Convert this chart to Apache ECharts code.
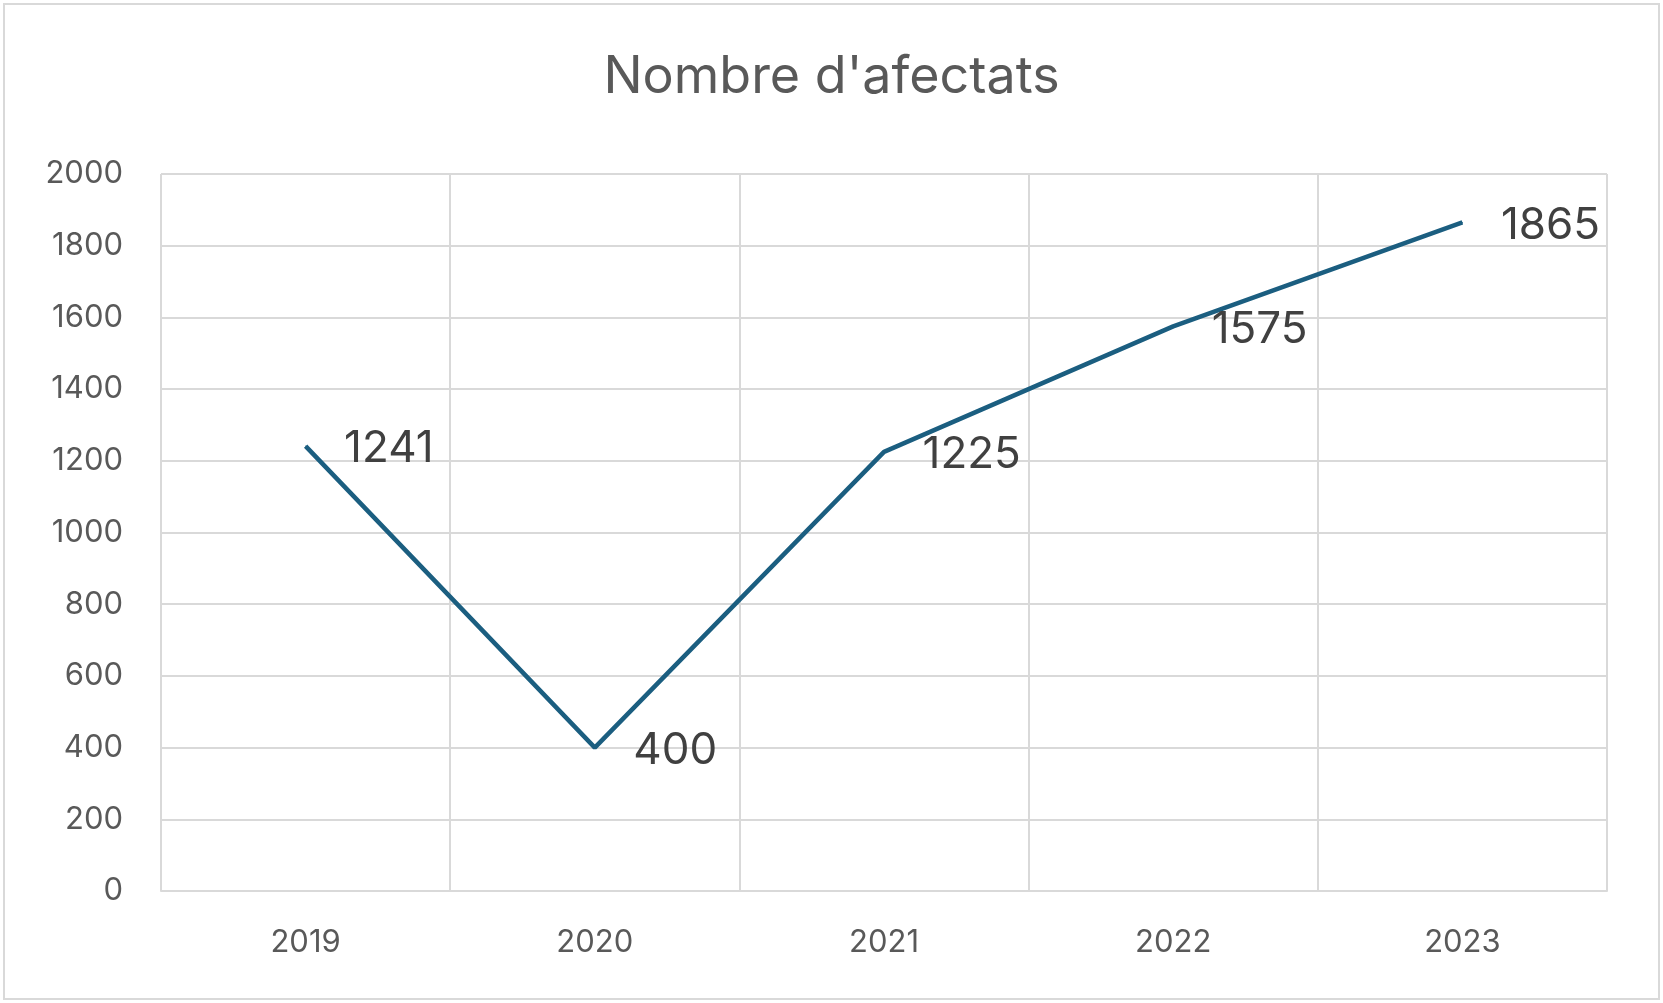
<!DOCTYPE html>
<html><head><meta charset="utf-8">
<script src="https://cdn.jsdelivr.net/npm/echarts@6/dist/echarts.min.js"></script>
<style>html,body{margin:0;padding:0;background:#fff}#c{width:1663px;height:1003px}</style>
</head><body><div id="c"></div>
<script>
const categories = ['2019','2020','2021','2022','2023'];
const values = [1241, 400, 1225, 1575, 1865];
const yTicks = {min:0, max:2000, interval:200};
const chart = echarts.init(document.getElementById('c'));
chart.setOption({
  backgroundColor:'#fff',
  title:{text:"Nombre d'afectats", left:'center', top:46,
    textStyle:{fontFamily:'Inter', fontSize:52, fontWeight:'normal', color:'#595959'}},
  graphic:[{type:'rect', shape:{x:4,y:4,width:1655,height:995}, style:{fill:'none', stroke:'#d9d9d9', lineWidth:2}}],
  grid:{left:161, right:56, top:174, bottom:112},
  xAxis:{type:'category', data:categories, boundaryGap:true,
    axisLine:{lineStyle:{color:'#d9d9d9', width:2}}, axisTick:{show:false},
    splitLine:{show:true, lineStyle:{color:'#d9d9d9', width:2}},
    axisLabel:{fontFamily:'Inter', fontSize:31, color:'#595959', margin:36}},
  yAxis:{type:'value', min:yTicks.min, max:yTicks.max, interval:yTicks.interval,
    axisLine:{show:false}, axisTick:{show:false},
    splitLine:{lineStyle:{color:'#d9d9d9', width:2}},
    axisLabel:{fontFamily:'Inter', fontSize:31, color:'#595959', margin:38, formatter:v=>String(v)}},
  series:[{type:'line', data:values, symbol:'circle', symbolSize:1, showSymbol:true,
    itemStyle:{color:'#1b5e80'}, lineStyle:{color:'#1b5e80', width:4.5},
    label:{show:true, position:'right', distance:38, offset:[0,3], fontFamily:'Inter', fontSize:44, color:'#404040'}}]
});
</script></body></html>
